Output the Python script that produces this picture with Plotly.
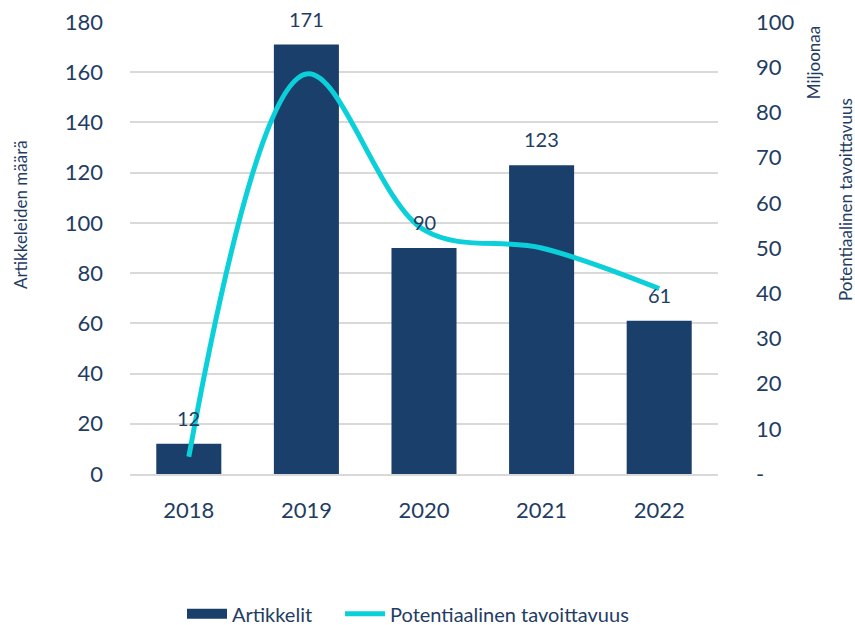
import plotly.graph_objects as go

years = ["2018", "2019", "2020", "2021", "2022"]
articles = [12, 171, 90, 123, 61]
reach_millions = [3.8, 88.5, 54, 50, 41]

left_ticks = [0, 20, 40, 60, 80, 100, 120, 140, 160, 180]
right_tickvals = [0, 10, 20, 30, 40, 50, 60, 70, 80, 90, 100]
right_ticktext = ["-", "10", "20", "30", "40", "50", "60", "70", "80", "90", "100"]

NAVY = "#1a3f6b"
TEXT = "#1f3d63"
CYAN = "#0bd0d9"
FONT = "Lato"

fig = go.Figure()
fig.add_trace(go.Bar(
    x=years, y=articles, name="Artikkelit",
    marker=dict(color=NAVY, line=dict(width=0)),
    showlegend=False,
))
fig.add_trace(go.Scatter(
    x=years, y=reach_millions, name="Potentiaalinen tavoittavuus",
    mode="lines", line=dict(color=CYAN, width=5, shape="spline", smoothing=1.0),
    yaxis="y2", showlegend=False,
))
# legend entries (bar shown as a wide block)
fig.add_trace(go.Scatter(
    x=[years[0]], y=[None], name="Artikkelit", mode="lines",
    line=dict(color=NAVY, width=14), legend="legend",
))
fig.add_trace(go.Scatter(
    x=[years[0]], y=[None], name="Potentiaalinen tavoittavuus", mode="lines",
    line=dict(color=CYAN, width=5), legend="legend2", yaxis="y2",
))

# value labels (category axis: position by category index)
label_annotations = [
    dict(x=i, y=v, xref="x", yref="y", text=str(v), showarrow=False,
         yshift=26, font=dict(family=FONT, size=20, color=TEXT),
         xanchor="center", yanchor="middle")
    for i, v in enumerate(articles)
]

legend_common = dict(orientation="h", xanchor="left", xref="container",
                     y=0.018, yanchor="middle", yref="container",
                     font=dict(family=FONT, size=20, color=TEXT), itemwidth=40,
                     bgcolor="rgba(0,0,0,0)")

fig.update_layout(
    width=855, height=625,
    margin=dict(l=130, r=137, t=22, b=151, autoexpand=False),
    paper_bgcolor="white", plot_bgcolor="white",
    font=dict(family=FONT, color=TEXT),
    bargap=0.447,
    showlegend=True,
    legend=dict(x=182 / 855, **legend_common),
    legend2=dict(x=340 / 855, **legend_common),
    xaxis=dict(type="category", showgrid=False, showline=True, linecolor="#d9d9d9",
               linewidth=2, tickfont=dict(family=FONT, size=22, color=TEXT), ticks="",
               ticklabelstandoff=16, automargin=False),
    yaxis=dict(range=[0, 180], tickvals=left_ticks, showgrid=True, gridcolor="#d9d9d9",
               gridwidth=2, zeroline=False, showline=False, ticks="",
               tickfont=dict(family=FONT, size=22, color=TEXT), ticklabelstandoff=26,
               automargin=False),
    yaxis2=dict(range=[0, 100], overlaying="y", side="right", tickvals=right_tickvals,
                ticktext=right_ticktext, showgrid=False, zeroline=False, showline=False,
                ticks="", tickfont=dict(family=FONT, size=22, color=TEXT),
                ticklabelstandoff=37, automargin=False),
    annotations=label_annotations + [
        dict(text="Artikkeleiden määrä", xref="paper", yref="paper", x=-0.187, y=0.573,
             textangle=-90, showarrow=False, font=dict(family=FONT, size=17, color=TEXT),
             xanchor="center", yanchor="middle"),
        dict(text="Miljoonaa", xref="paper", yref="paper", x=1.1616, y=0.911,
             textangle=-90, showarrow=False, font=dict(family=FONT, size=17, color=TEXT),
             xanchor="center", yanchor="middle"),
        dict(text="Potentiaalinen tavoittavuus", xref="paper", yref="paper", x=1.216, y=0.606,
             textangle=-90, showarrow=False, font=dict(family=FONT, size=17, color=TEXT),
             xanchor="center", yanchor="middle"),
    ],
)

fig.write_html("out.html")
